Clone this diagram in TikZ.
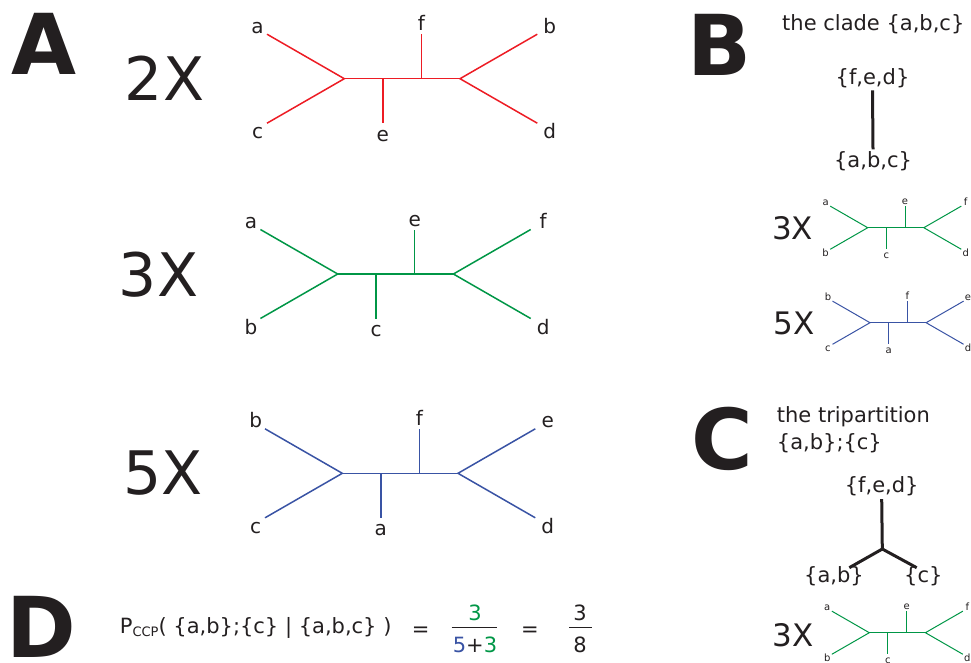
\documentclass[tikz,border=0pt]{standalone}
\usepackage{fontspec}
\setmainfont{DejaVu Sans}
\definecolor{tred}{RGB}{237,28,36}
\definecolor{tgreen}{RGB}{0,150,70}
\definecolor{tblue}{RGB}{57,83,164}
\definecolor{ink}{RGB}{35,31,32}
\newcommand\rlabelx{205.5}
% #1 scope options, #2 name prefix, #3..#8 labels: upper-left, lower-left, lower branch, upper branch, upper-right, lower-right
\newcommand\phylotree[8]{%
\begin{scope}[#1]
 \coordinate (#2L) at (0,0);
 \coordinate (#2R) at (115.7,0);
 \coordinate (#2B) at (38.5,0);
 \coordinate (#2T) at (77,0);
 \coordinate (#2ul) at (-77.3,-44.5);
 \coordinate (#2ll) at (-77.3,44.5);
 \coordinate (#2be) at (38.5,44.5);
 \coordinate (#2te) at (77,-44.5);
 \coordinate (#2ur) at (193,-44.5);
 \coordinate (#2lr) at (193,44.5);
 \draw (#2ul) -- (#2L) -- (#2ll);
 \draw (#2L) -- (#2R);
 \draw (#2B) -- (#2be);
 \draw (#2T) -- (#2te);
 \draw (#2ur) -- (#2R) -- (#2lr);
 \node[leaflabel] (#2n1) at (-86.7,-45.5) {#3};
 \node[leaflabel] (#2n2) at (-86.7,60) {#4};
 \node[leaflabel] (#2n3) at (38.5,62.5) {#5};
 \node[leaflabel] (#2n4) at (77,-47.8) {#6};
 \node[leaflabel] (#2n5) at (\rlabelx,-45.5) {#7};
 \node[leaflabel] (#2n6) at (\rlabelx,60) {#8};
\end{scope}}
\begin{document}
\begin{tikzpicture}[x=1pt,y=-1pt,
  leaflabel/.style={anchor=base, inner sep=0pt, text=ink},
  panelletter/.style={inner sep=0pt, text=ink, font=\fontsize{84}{84}\selectfont\bfseries},
  bigcount/.style={inner sep=0pt, text=ink, font=\fontsize{60}{60}\selectfont},
  smallcount/.style={inner sep=0pt, text=ink, font=\fontsize{31}{31}\selectfont},
  plain/.style={inner sep=0pt, text=ink, font=\fontsize{21}{25}\selectfont},
  setlabel/.style={inner sep=2.5pt, text=ink, font=\fontsize{21}{25}\selectfont},
  bigtree/.style={line width=1.5pt, every node/.append style={font=\fontsize{20}{24}\selectfont}},
  smalltree/.style={scale=0.485, line width=1pt, every node/.append style={font=\fontsize{10}{12}\selectfont}},
  thick line/.style={draw=ink, line width=3pt},
  fracbar/.style={draw=ink, line width=1.5pt}]
\clip (0,0) rectangle (971,662);
% panel letters
\node[panelletter] (A) at (44,44) {A};
\node[panelletter] (B) at (720,44.5) {B};
\node[panelletter] (C) at (722.5,439) {C};
\node[panelletter] (D) at (41,627) {D};
% panel A
\node[bigcount] (c2) at (164.5,78) {2X};
\node[bigcount] (c3) at (158.5,275) {3X};
\node[bigcount] (c5) at (163,473.5) {5X};
\phylotree{shift={(344.3,78.7)}, draw=tred, bigtree}{r}{a}{c}{e}{f}{b}{d}
\phylotree{shift={(337.7,274)}, draw=tgreen, bigtree}{g}{a}{b}{c}{e}{f}{d}
\phylotree{shift={(342.3,473.3)}, draw=tblue, bigtree}{u}{b}{c}{a}{f}{e}{d}
\renewcommand\rlabelx{202}
% panel B
\node[plain] (cladetitle) at (873.3,24) {the clade \{a,b,c\}};
\node[setlabel] (fed) at (872.5,78) {\{f,e,d\}};
\node[setlabel] (abc) at (873,161.7) {\{a,b,c\}};
\draw[thick line] (fed.south) -- (abc.north);
\node[smallcount] (s3) at (792.5,228) {3X};
\node[smallcount] (s5) at (794,323) {5X};
\phylotree{shift={(867.7,227.7)}, draw=tgreen, smalltree}{sg}{a}{b}{c}{e}{f}{d}
\phylotree{shift={(870,322.7)}, draw=tblue, smalltree}{sb}{b}{c}{a}{f}{e}{d}
% panel C
\node[plain, anchor=west] (tritle) at (776.7,416.7) {the tripartition};
\node[plain, anchor=west] (trisets) at (776.7,443.3) {\{a,b\};\{c\}};
\node[setlabel] (fed2) at (881.7,486.7) {\{f,e,d\}};
\node[plain] (ab2) at (834,576) {\{a,b\}};
\node[plain] (c2set) at (923.3,576) {\{c\}};
\coordinate (join) at (882.3,549);
\coordinate (abend) at (849.3,567.7);
\coordinate (cend) at (916.7,567.7);
\draw[thick line] (fed2.south) -- (join);
\draw[thick line] (abend) -- (join) -- (cend);
\node[smallcount] (s3b) at (793.3,635) {3X};
\phylotree{shift={(869.3,632.7)}, draw=tgreen, smalltree}{tg}{a}{b}{c}{e}{f}{d}
% panel D
\node[plain, anchor=base west] (pccp) at (119.7,633.3) {P\raisebox{-0.3ex}{\fontsize{13}{13}\selectfont CCP}( \{a,b\};\{c\} | \{a,b,c\} )};
\node[plain] (eq1) at (420.7,631.7) {=};
\node[plain, text=tgreen] (num1) at (475,613.3) {3};
\node[plain] (den1) at (475,645) {\textcolor{tblue}{5}+\textcolor{tgreen}{3}};
\coordinate (bar1l) at (451.7,627.7);
\coordinate (bar1r) at (497.3,627.7);
\draw[fracbar] (bar1l) -- (bar1r);
\node[plain] (eq2) at (530,631.7) {=};
\node[plain] (num2) at (580,613.3) {3};
\node[plain] (den2) at (580,645) {8};
\coordinate (bar2l) at (569.3,627.7);
\coordinate (bar2r) at (591.7,627.7);
\draw[fracbar] (bar2l) -- (bar2r);
\end{tikzpicture}
\end{document}
